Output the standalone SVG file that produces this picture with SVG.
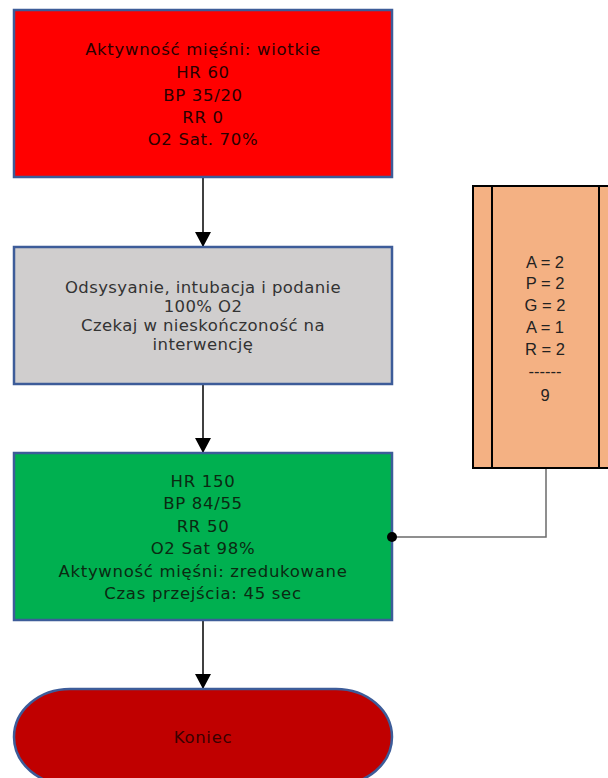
<svg xmlns="http://www.w3.org/2000/svg" width="608" height="778" viewBox="0 0 608 778">
  <style>
    .box { stroke: #3d5c99; stroke-width: 2.5; }
    .lbl { font-family: "DejaVu Sans", "Liberation Sans", sans-serif; font-size: 16.5px; letter-spacing: 0.7px; text-anchor: middle; dominant-baseline: central; }
    .tight { letter-spacing: 0.4px; }
    .side { font-family: "Liberation Sans", "Open Sans", sans-serif; font-size: 16.5px; text-anchor: middle; dominant-baseline: central; fill: #222; }
    .flow { stroke: #000; stroke-width: 1.5; fill: none; }
  </style>
  <defs>
    <marker id="arrow" markerWidth="16" markerHeight="16" refX="15" refY="8" orient="auto" markerUnits="userSpaceOnUse">
      <path d="M0,0 L15,8 L0,16 Z" fill="#000"/>
    </marker>
  </defs>
  <rect width="608" height="778" fill="#fff"/>

  <g id="connectors">
    <line class="flow" x1="203" y1="177" x2="203" y2="247" marker-end="url(#arrow)"/>
    <line class="flow" x1="203" y1="384" x2="203" y2="453" marker-end="url(#arrow)"/>
    <line class="flow" x1="203" y1="620" x2="203" y2="689" marker-end="url(#arrow)"/>
    <polyline points="546,468 546,537 392,537" fill="none" stroke="#6b6b6b" stroke-width="1.5"/>
  </g>

  <g id="state-start">
    <rect class="box" x="14" y="10" width="378" height="167" fill="#ff0000"/>
    <g class="lbl" fill="#2a0000">
      <text x="203" y="49">Aktywność mięśni: wiotkie</text>
      <text x="203" y="72">HR 60</text>
      <text x="203" y="95">BP 35/20</text>
      <text x="203" y="117">RR 0</text>
      <text x="203" y="139">O2 Sat. 70%</text>
    </g>
  </g>

  <g id="intervention">
    <rect class="box" x="14" y="247" width="378" height="137" fill="#d0cece"/>
    <g class="lbl tight" fill="#333">
      <text x="203" y="287">Odsysyanie, intubacja i podanie</text>
      <text x="203" y="306">100% O2</text>
      <text x="203" y="325">Czekaj w nieskończoność na</text>
      <text x="203" y="344">interwencję</text>
    </g>
  </g>

  <g id="state-result">
    <rect class="box" x="14" y="453" width="378" height="167" fill="#00b050"/>
    <g class="lbl" fill="#0b2a12">
      <text x="203" y="481">HR 150</text>
      <text x="203" y="503">BP 84/55</text>
      <text x="203" y="526">RR 50</text>
      <text x="203" y="548">O2 Sat 98%</text>
      <text x="203" y="571">Aktywność mięśni: zredukowane</text>
      <text x="203" y="593">Czas przejścia: 45 sec</text>
    </g>
    <circle cx="392" cy="537" r="5" fill="#000"/>
  </g>

  <g id="end">
    <rect class="box" x="14" y="689" width="378" height="96" rx="56" ry="48" fill="#c00000"/>
    <text class="lbl" x="203" y="737" fill="#3a0000">Koniec</text>
  </g>

  <g id="apgar">
    <rect x="473" y="186" width="140" height="282" fill="#f4b183" stroke="#000" stroke-width="2"/>
    <line x1="492" y1="186" x2="492" y2="468" stroke="#000" stroke-width="2"/>
    <line x1="599" y1="186" x2="599" y2="468" stroke="#000" stroke-width="2"/>
    <text class="side" x="545" y="262">A = 2</text>
    <text class="side" x="545" y="283">P = 2</text>
    <text class="side" x="545" y="305">G = 2</text>
    <text class="side" x="545" y="327">A = 1</text>
    <text class="side" x="545" y="349">R = 2</text>
    <text class="side" x="545" y="371">------</text>
    <text class="side" x="545" y="395">9</text>
  </g>
</svg>
